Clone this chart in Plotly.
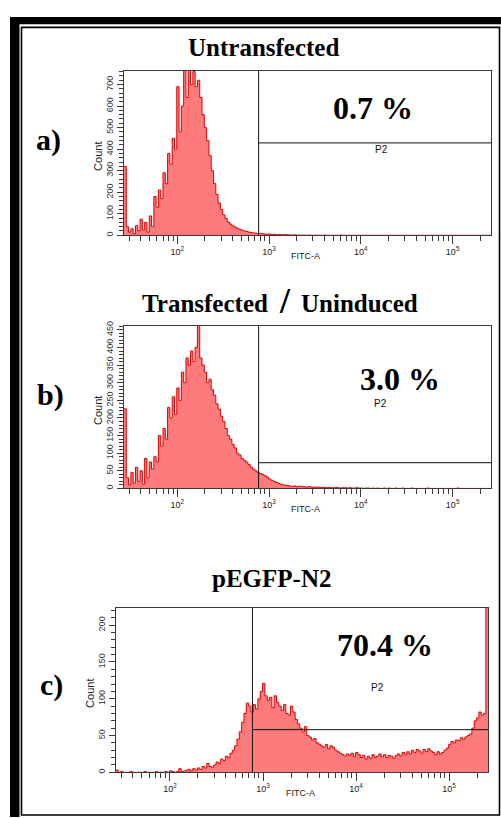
import plotly.graph_objects as go

# FITC-A channel grid: log10 bin edges of the histogram
LOG_START = 1.42
LOG_STEP = 0.025
N_BINS = 160
X_RANGE_LOG = [1.42, 5.418]

# Counts per bin, untransfected cells
counts_untransfected = [
    320, 40, 15, 30, 8, 45, 20, 75, 25, 60,
    15, 90, 40, 180, 130, 210, 170, 290, 240, 380,
    330, 450, 400, 690, 480, 600, 765, 640, 765, 700,
    760, 690, 720, 640, 560, 500, 440, 370, 300, 240,
    190, 150, 120, 95, 78, 62, 52, 44, 38, 32,
    28, 24, 20, 18, 15, 13, 11, 10, 8, 9,
    7, 6, 5, 6, 4, 5, 3, 4, 3, 2,
    3, 2, 2, 1, 2, 1, 1, 0, 1, 0,
    1, 0, 0, 1, 0, 0, 0, 1, 0, 0,
    0, 0, 0, 0, 1, 0, 0, 0, 0, 0,
    0, 0, 0, 0, 0, 0, 0, 0, 0, 0,
    0, 0, 0, 0, 0, 0, 0, 0, 0, 0,
    0, 0, 0, 0, 0, 0, 0, 0, 0, 0,
    0, 0, 0, 0, 0, 0, 0, 0, 0, 0,
    0, 0, 0, 0, 0, 0, 0, 0, 0, 0,
    0, 0, 0, 0, 0, 0, 0, 0, 0, 0,
]

# Counts per bin, transfected but uninduced cells
counts_uninduced = [
    226, 30, 10, 45, 15, 60, 20, 50, 12, 85,
    30, 75, 55, 90, 75, 150, 120, 170, 140, 230,
    200, 260, 210, 285, 250, 330, 300, 370, 350, 390,
    360, 400, 462, 370, 350, 330, 300, 310, 280, 265,
    240, 225, 205, 190, 170, 150, 140, 125, 115, 100,
    95, 85, 80, 75, 68, 60, 55, 50, 45, 42,
    40, 36, 32, 27, 23, 20, 17, 14, 12, 10,
    9, 8, 7, 6, 7, 5, 6, 5, 5, 4,
    5, 4, 4, 3, 4, 3, 3, 3, 2, 3,
    2, 2, 3, 2, 1, 2, 2, 1, 2, 1,
    1, 2, 1, 1, 0, 1, 1, 0, 1, 0,
    1, 0, 0, 1, 0, 1, 0, 0, 1, 0,
    0, 1, 0, 0, 0, 1, 0, 0, 0, 0,
    0, 0, 1, 0, 0, 0, 0, 0, 0, 0,
    0, 0, 0, 0, 0, 1, 0, 0, 0, 0,
    0, 0, 0, 0, 0, 0, 0, 0, 0, 0,
]

# Counts per bin, pEGFP-N2 transfected cells
counts_pegfp = [
    3, 0, 1, 0, 0, 0, 1, 0, 0, 0,
    0, 0, 1, 0, 0, 0, 0, 1, 0, 0,
    0, 1, 0, 2, 1, 0, 1, 5, 1, 2,
    3, 4, 2, 5, 3, 6, 4, 8, 6, 12,
    8, 7, 10, 14, 12, 18, 16, 22, 20, 26,
    30, 36, 45, 55, 68, 80, 94, 90, 82, 92,
    86, 100, 110, 121, 104, 98, 102, 88, 104, 95,
    90, 84, 92, 80, 78, 90, 82, 72, 66, 60,
    55, 62, 50, 48, 44, 46, 40, 38, 36, 34,
    38, 32, 36, 34, 30, 28, 26, 24, 22, 25,
    23, 26, 21, 27, 24, 20, 23, 18, 22, 19,
    24, 20, 22, 25, 21, 24, 20, 23, 22, 19,
    23, 25, 22, 27, 24, 28, 25, 30, 27, 31,
    29, 26, 31, 28, 32, 29, 27, 24, 28, 25,
    27, 30, 33, 38, 42, 40, 44, 43, 47, 45,
    48, 50, 52, 60, 70, 74, 82, 78, 80, 224,
]

# P2 gate: lower FITC bound and marker level per panel
GATE_X = 770
gate_levels = [429, 73, 58]
gate_percent = ["0.7 %", "3.0 %", "70.4 %"]
panel_titles = ["Untransfected", "Transfected / Uninduced", "pEGFP-N2"]
panel_letters = ["a)", "b)", "c)"]
y_max = [765, 462, 224]
y_label_step = [100, 50, 50]
y_minor_step = [20, 10, 10]

X_TICKS = [1e2, 1e3, 1e4, 1e5]
X_TICK_TEXT = ["10<sup>2</sup>", "10<sup>3</sup>", "10<sup>4</sup>", "10<sup>5</sup>"]
X_MINOR = [d * 10 ** e for e in range(1, 6) for d in range(2, 10)
           if 26 < d * 10 ** e < 262000]

W, H = 501, 818
SERIF = "Liberation Serif"
SANS = "Liberation Sans"
AXIS_COLOR = "#3a3a3a"


def fx(p):
    return p / W


def fy(p):
    return 1 - p / H


def note(text, x, y, size, family, xanchor="center", angle=0, color="#000"):
    return dict(text=text, x=fx(x), y=fy(y), xref="paper", yref="paper",
                xanchor=xanchor, yanchor="middle", textangle=angle,
                showarrow=False, font=dict(family=family, size=size, color=color))


# plot-area boxes in pixels: left, right, top, bottom
boxes = [(124, 491, 66, 232), (124, 491, 323, 487), (116, 488, 607, 773)]

edges = [10 ** (LOG_START + LOG_STEP * i) for i in range(N_BINS + 1)]
series = [counts_untransfected, counts_uninduced, counts_pegfp]

fig = go.Figure()
annotations = []
shapes = []

for k, counts in enumerate(series):
    xa = "x" if k == 0 else f"x{k + 1}"
    ya = "y" if k == 0 else f"y{k + 1}"
    fig.add_trace(go.Scatter(
        x=edges, y=list(counts) + [counts[-1]],
        mode="lines", line=dict(color="#E00000", width=1, shape="hv"),
        fill="tozeroy", fillcolor="#FF7B7B",
        xaxis=xa, yaxis=ya, hoverinfo="skip",
    ))
    l, r, t, b = boxes[k]
    xkey = "xaxis" if k == 0 else f"xaxis{k + 1}"
    ykey = "yaxis" if k == 0 else f"yaxis{k + 1}"
    fig.layout[xkey] = dict(
        type="log", range=X_RANGE_LOG, domain=[fx(l), fx(r)], anchor=ya,
        showline=True, mirror=True, linecolor=AXIS_COLOR, linewidth=1,
        showgrid=False, zeroline=False,
        tickmode="array", tickvals=X_TICKS, ticktext=X_TICK_TEXT,
        ticks="outside", ticklen=8, tickcolor=AXIS_COLOR, tickwidth=1,
        tickfont=dict(family=SANS, size=9, color="#222"),
        minor=dict(tickmode="array", tickvals=X_MINOR, ticks="outside",
                   ticklen=5, tickcolor=AXIS_COLOR, tickwidth=1),
    )
    fig.layout[ykey] = dict(
        range=[0, y_max[k]], domain=[fy(b), fy(t)], anchor=xa,
        showline=True, mirror=True, linecolor=AXIS_COLOR, linewidth=1,
        showgrid=False, zeroline=False,
        tickmode="linear", tick0=0, dtick=y_label_step[k],
        ticks="outside", ticklen=6, tickcolor=AXIS_COLOR, tickwidth=1,
        tickangle=-90, tickfont=dict(family=SANS, size=9, color="#333"),
        minor=dict(tickmode="linear", tick0=0, dtick=y_minor_step[k],
                   ticks="outside", ticklen=4, tickcolor=AXIS_COLOR, tickwidth=1),
    )
    # gate P2: left boundary and marker bar
    shapes.append(dict(type="line", xref=xa, yref=ya, x0=GATE_X, x1=GATE_X,
                       y0=0, y1=y_max[k], line=dict(color="#111", width=1)))
    shapes.append(dict(type="line", xref=xa, yref=ya, x0=GATE_X, x1=10 ** X_RANGE_LOG[1],
                       y0=gate_levels[k], y1=gate_levels[k], line=dict(color="#111", width=1)))
    # axis titles
    annotations.append(note("Count", l - 26, (t + b) / 2 + 4, 11, SANS, angle=-90, color="#222"))
    annotations.append(note("FITC-A", l + (r - l) * 0.5 - 2, b + 21, 9, SANS, color="#222"))

# percentage and gate names
pct_pos = [(373, 104), (400, 377), (385, 645)]
p2_pos = [(381, 146), (380, 401), (377, 688)]
for k in range(3):
    annotations.append(note(f"<b>{gate_percent[k]}</b>", pct_pos[k][0], pct_pos[k][1], 32, SERIF))
    annotations.append(note("P2", p2_pos[k][0], p2_pos[k][1], 10, SANS, color="#111"))

# panel titles
annotations.append(note(f"<b>{panel_titles[0]}</b>", 263, 43, 25, SERIF))
title_b = panel_titles[1].split(" / ")
annotations.append(note(f"<b>{title_b[0]}</b>", 270, 301, 25, SERIF, xanchor="right"))
annotations.append(note("<b>/</b>", 285, 298, 36, SERIF))
annotations.append(note(f"<b>{title_b[1]}</b>", 299, 301, 25, SERIF, xanchor="left"))
annotations.append(note(f"<b>{panel_titles[2]}</b>", 271, 578, 25, SERIF))

# panel letters
letter_pos = [(48, 136), (50, 393), (51, 685)]
for k in range(3):
    annotations.append(note(f"<b>{panel_letters[k]}</b>", letter_pos[k][0], letter_pos[k][1], 30, SERIF))

# outer frame: heavy top/left band plus thin inner rectangle
shapes.append(dict(type="rect", xref="paper", yref="paper", x0=fx(10), x1=fx(501), y0=fy(19.5), y1=fy(12),
                   fillcolor="#000", line=dict(width=0)))
shapes.append(dict(type="rect", xref="paper", yref="paper", x0=fx(10), x1=fx(19.5), y0=fy(818), y1=fy(12),
                   fillcolor="#000", line=dict(width=0)))
shapes.append(dict(type="rect", xref="paper", yref="paper", x0=fx(21.5), x1=fx(499.5), y0=fy(816), y1=fy(22.5),
                   fillcolor="rgba(0,0,0,0)", line=dict(color="#000", width=1.6)))

fig.update_layout(
    width=W, height=H, margin=dict(l=0, r=0, t=0, b=0),
    paper_bgcolor="white", plot_bgcolor="white", showlegend=False,
    annotations=annotations, shapes=shapes,
)

fig.write_html("out.html")
